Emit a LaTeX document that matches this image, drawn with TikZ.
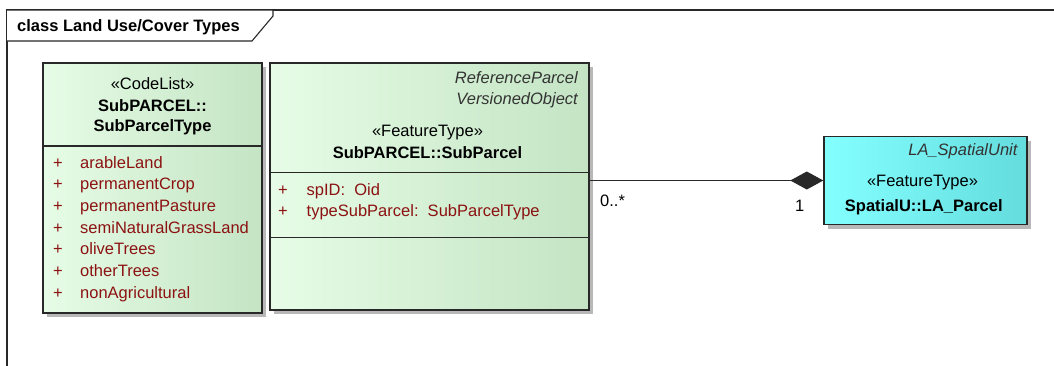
\documentclass[tikz,border=0pt]{standalone}
\usepackage{fontspec}
\setmainfont{Liberation Sans}
\usetikzlibrary{arrows.meta,shadows,calc}
\definecolor{clsL}{RGB}{230,252,230}
\definecolor{clsR}{RGB}{196,228,196}
\definecolor{cyL}{RGB}{132,255,255}
\definecolor{cyR}{RGB}{100,220,222}
\definecolor{attr}{RGB}{140,18,18}
\definecolor{edge}{RGB}{40,40,40}
\begin{document}
\begin{tikzpicture}[x=1pt,y=-1pt,
  font=\fontsize{16.5}{20}\selectfont,
  classbox/.style={draw=edge, line width=1.4pt, rectangle, inner sep=0pt,
    drop shadow={shadow xshift=4pt, shadow yshift=-4pt, fill=black!28, opacity=1}},
  greenbox/.style={classbox, left color=clsL, right color=clsR},
  cyanbox/.style={classbox, left color=cyL, right color=cyR},
  sep/.style={draw=edge, line width=1.3pt},
  txt/.style={inner sep=0pt, anchor=base},
  lefttxt/.style={inner sep=0pt, anchor=base west},
  righttxt/.style={inner sep=0pt, anchor=base east},
  attrtxt/.style={lefttxt, text=attr},
  emph/.style={righttxt, font=\fontsize{16.5}{20}\selectfont\itshape, text=black!80},
  bold/.style={txt, font=\fontsize{16.5}{20}\selectfont\bfseries}]
\useasboundingbox (0,0) rectangle (1054,365);

% diagram frame and its name tab
\begin{scope}
  \clip (0,0) rectangle (1054,365);
  \draw[draw=edge, line width=1.1pt] (7,380) -- (7,10) -- (1070,10);
\end{scope}
\draw[draw=edge, line width=1.1pt, fill=white] (7,10) -- (273,10) -- (273,16) -- (252,41) -- (7,41);
\node[lefttxt, font=\fontsize{16.5}{20}\selectfont\bfseries] (title) at (17,31) {class Land Use/Cover Types};

% code list SubParcelType
\node[greenbox, minimum width=219pt, minimum height=250pt] (codelist) at (152.5,188) {};
\draw[sep] (codelist.west |- 0,146) -- (codelist.east |- 0,146);
\node[txt] (cl1) at (152.5,89.5) {«CodeList»};
\node[bold] (cl2) at (152.5,111) {SubPARCEL::};
\node[bold] (cl3) at (152.5,131.5) {SubParcelType};
\foreach \y/\lit [count=\i] in {168/arableLand, 189.7/permanentCrop, 211.4/permanentPasture,
    233.1/semiNaturalGrassLand, 254.8/oliveTrees, 276.5/otherTrees, 298.2/nonAgricultural} {
  \node[attrtxt] (litplus\i) at (53,\y) {+};
  \node[attrtxt] (lit\i) at (80,\y) {\lit};
}

% feature type SubParcel
\node[greenbox, minimum width=319pt, minimum height=247pt] (sub) at (429.5,186.5) {};
\draw[sep] (sub.west |- 0,172.5) -- (sub.east |- 0,172.5);
\draw[sep] (sub.west |- 0,237.5) -- (sub.east |- 0,237.5);
\node[emph] (subp1) at (578,83.3) {ReferenceParcel};
\node[emph] (subp2) at (578,104) {VersionedObject};
\node[txt] (sub1) at (427.5,136) {«FeatureType»};
\node[bold] (sub2) at (427.5,158) {SubPARCEL::SubParcel};
\node[attrtxt] (aplus1) at (278,195) {+};
\node[attrtxt] (att1) at (306.5,195) {spID:\ \ Oid};
\node[attrtxt] (aplus2) at (278,216.7) {+};
\node[attrtxt] (att2) at (306.5,216.7) {typeSubParcel:\ \ SubParcelType};

% feature type LA_Parcel
\node[cyanbox, minimum width=203pt, minimum height=88pt] (la) at (925.5,180.5) {};
\node[emph] (lap) at (1017.7,155.7) {LA\_SpatialUnit};
\node[txt] (la1) at (922.5,186.7) {«FeatureType»};
\node[bold] (la2) at (923.8,211) {SpatialU::LA\_Parcel};

% composition
\draw[draw=edge, line width=1.3pt, -{Diamond[length=33pt,width=18pt]}] (sub.east |- la.west) -- (la.west);
\node[lefttxt] (m1) at (600,206) {0..*};
\node[lefttxt] (m2) at (795,211.7) {1};
\end{tikzpicture}
\end{document}
